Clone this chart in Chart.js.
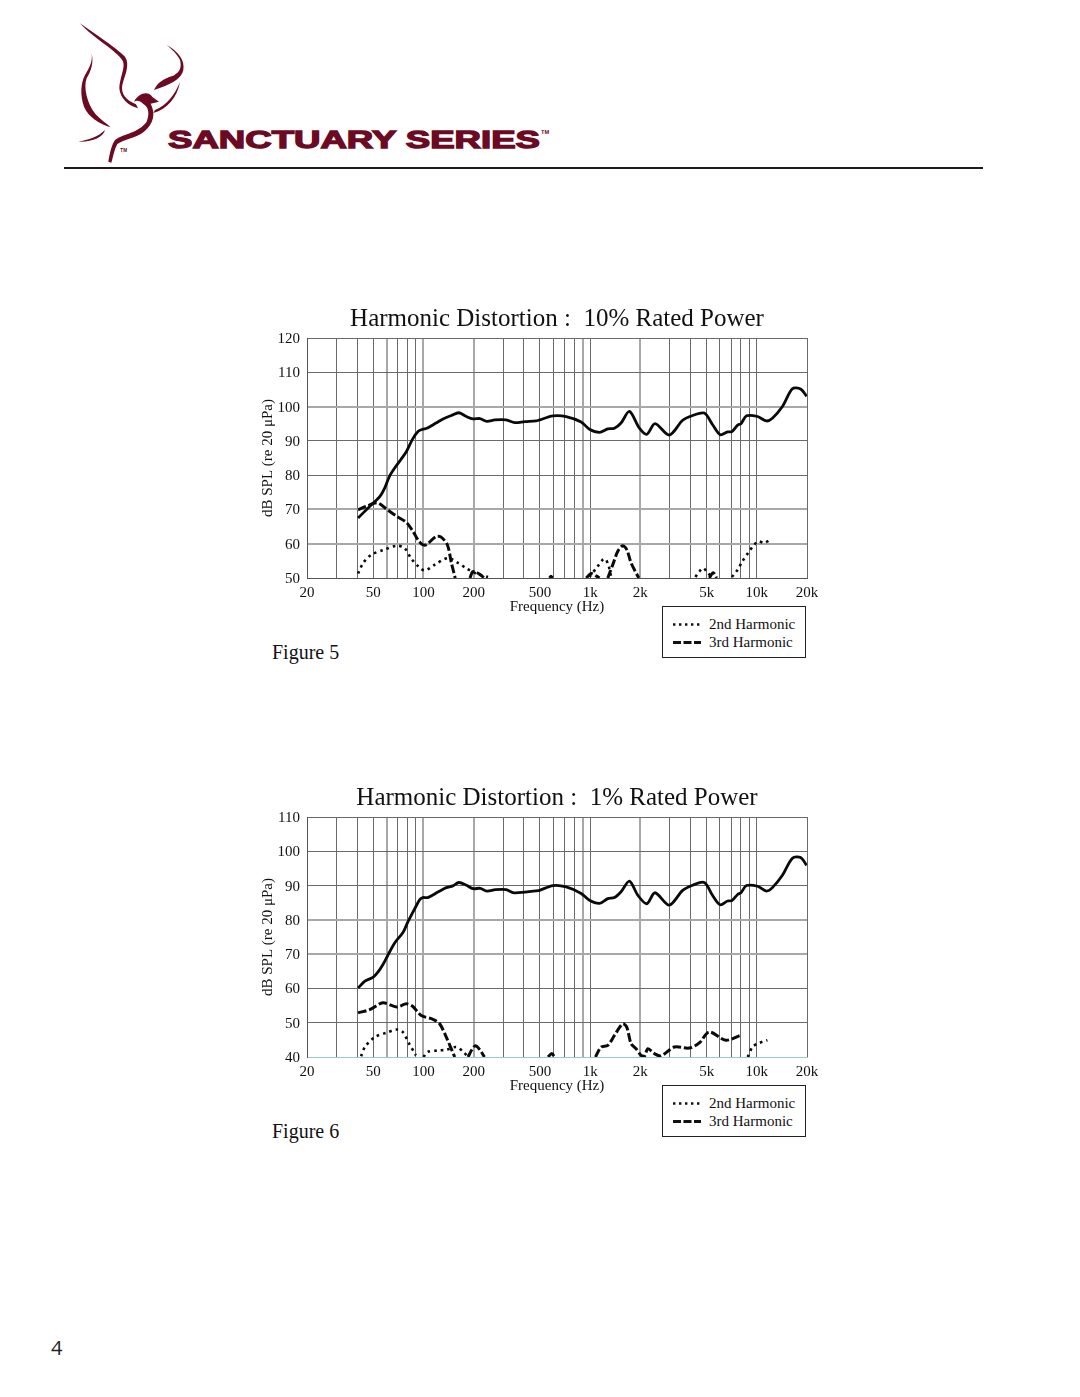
<!DOCTYPE html>
<html lang="en">
<head>
    <meta charset="UTF-8">
    <title>Harmonic Distortion</title>
    <script src="https://cdn.jsdelivr.net/npm/chart.js"></script>
    <style>
        html, body { margin: 0; padding: 0; background: #fff; }
        body { position: relative; width: 1080px; height: 1397px; overflow: hidden; font-family: "Liberation Serif", serif; color: #111; }
        canvas { position: absolute; left: 250px; }
        #chart5 { top: 300px; }
        #chart6 { top: 779px; }
        .rule { position: absolute; left: 64px; top: 167px; width: 919px; height: 2px; background: #1a1a1a; }
        .logo { position: absolute; left: 60px; top: 10px; }
        .figure { position: absolute; left: 272px; font-size: 20px; line-height: 24px; }
        .pagenum { position: absolute; left: 51px; top: 1336px; font-family: "Open Sans", sans-serif; font-size: 20px; line-height: 24px; color: #222; }
        .legend { position: absolute; left: 662px; width: 142px; height: 50px; border: 1.5px solid #222; background: #fff; font-size: 15px; }
        .legend svg { position: absolute; left: 10px; top: 0; }
        .legend span { position: absolute; left: 46px; line-height: 17px; white-space: nowrap; }
    </style>
</head>
<body>
    <svg class="logo" width="500" height="170" viewBox="0 0 1500 510">
        <g fill="#6b0a22">
            <path d="M60,40 C110,75 170,115 195,140 C212,165 192,200 187,225 C182,250 197,270 228,283 L234,295 C205,287 180,265 178,235 C178,205 198,170 188,152 C170,122 100,85 60,40Z"/>
            <path d="M95,130 C102,160 92,185 80,205 C70,230 80,280 107,313 C120,328 140,340 152,352 C120,342 85,322 72,290 C60,255 62,220 75,195 C90,170 98,155 95,130Z"/>
            <path d="M55,395 C85,390 115,380 135,360 C130,382 95,397 55,395Z"/>
            <path d="M320,105 C355,125 375,150 370,180 C365,207 330,225 282,240 C290,220 310,205 340,197 C362,185 365,170 360,150 C350,130 335,118 320,105Z"/>
            <path d="M360,215 C352,262 322,297 280,309 L285,300 C320,285 345,255 360,215Z"/>
            <path d="M222,275 C235,250 265,240 278,262 L297,275 L272,281 C287,310 282,340 252,365 C227,385 192,387 172,402 C162,420 160,440 154,458 L145,455 C150,425 155,405 165,390 C190,370 235,370 260,335 C270,310 265,290 250,282 C240,272 230,270 222,275Z"/>
            <text x="324" y="414" font-family="Liberation Sans" font-weight="700" font-size="74" stroke="#6b0a22" stroke-width="4" textLength="1116" lengthAdjust="spacingAndGlyphs">SANCTUARY SERIES</text>
            <text x="1443" y="372" font-family="Liberation Sans" font-size="17" font-weight="700">TM</text>
            <text x="181" y="426" font-family="Liberation Sans" font-size="14" font-weight="700">TM</text>
        </g>
    </svg>
    <div class="rule"></div>

    <canvas id="chart5" width="614" height="324"></canvas>
    <div class="legend" style="top:606px">
        <svg width="32" height="51"><line x1="0" y1="17.5" x2="28" y2="17.5" stroke="#111" stroke-width="2.4" stroke-dasharray="2.4 3.6"/><line x1="0" y1="35.5" x2="28" y2="35.5" stroke="#111" stroke-width="2.8" stroke-dasharray="8 2.5"/></svg>
        <span style="top:9px">2nd Harmonic</span><span style="top:27px">3rd Harmonic</span>
    </div>
    <div class="figure" style="top:640px">Figure 5</div>

    <canvas id="chart6" width="614" height="324"></canvas>
    <div class="legend" style="top:1085px">
        <svg width="32" height="51"><line x1="0" y1="17.5" x2="28" y2="17.5" stroke="#111" stroke-width="2.4" stroke-dasharray="2.4 3.6"/><line x1="0" y1="35.5" x2="28" y2="35.5" stroke="#111" stroke-width="2.8" stroke-dasharray="8 2.5"/></svg>
        <span style="top:9px">2nd Harmonic</span><span style="top:27px">3rd Harmonic</span>
    </div>
    <div class="figure" style="top:1119px">Figure 6</div>

    <div class="pagenum">4</div>

<script>
// axis
const gridFreqs = [20,30,40,50,60,70,80,90,100,200,300,400,500,600,700,800,900,1000,2000,3000,4000,5000,6000,7000,8000,9000,10000,20000];
const tickFreqs = [20,50,100,200,500,1000,2000,5000,10000,20000];
const tickLabels = ['20','50','100','200','500','1k','2k','5k','10k','20k'];
const softFreqs = [60,100,200,900,2000]; // these print lighter in the scan

// Figure 5 - 10% rated power
const mainFreq5 = [40.5,45.4,50,54.8,58.5,62.4,67,73,79,86,93,99,105,119,131,147,163,181,198,218,240,268,313,353,406,473,497,598,718,883,990,1138,1276,1399,1532,1720,1975,2185,2450,2985,3590,4120,4840,5430,6030,6670,7090,7670,8030,8670,10100,11430,12400,14240,16350,18300,19900];
const mainDb5 = [67.5,69.9,71.9,73.8,76.2,79.6,82,84.5,86.9,90.5,92.8,93.4,93.7,95.2,96.4,97.4,98.2,97.1,96.4,96.5,95.7,96.1,96.1,95.3,95.6,95.8,96.1,97.3,97.1,95.5,93.4,92.5,93.5,93.7,95.2,98.6,93.7,91.9,95,91.7,96,97.4,98.1,94.7,91.8,92.6,92.7,94.6,95,97.3,97.1,95.8,96.6,100,105.2,105.1,103];
const thirdFreq5 = [40.5,45.4,53,60,69,79,86.5,93,99,104,119,127,139,147,155,175,190,197,205,218,232,300,570,582,595,800,946,1014,1086,1138,1200,1276,1367,1465,1569,1658,1760,1957,3000,5182,5470,5740];
const thirdDb5 = [69.9,70.9,71.9,70.1,68,66.2,63.6,61,59.7,59.7,62.1,62,59.7,54.4,50,null,50,51.8,51.8,51,50,null,50,50.5,50,null,50,51.3,50.6,50,null,50,53.9,57.8,59.4,58.3,54.4,50,null,50,51.5,50];
const secondFreq5 = [40.5,43.5,48.7,57,69,77,84,93,102,117,140,161,180,207,244,600,990,1110,1190,1236,1293,1336,3000,4280,4520,4770,5070,5430,6500,7090,7670,8200,8920,9650,10240,11060,11870];
const secondDb5 = [51.3,54.4,56.8,58.1,59.4,58.7,55.8,53.4,52.2,53.9,55.8,54.4,52.9,51.3,50.3,null,50.3,53.4,55.3,55.5,53.4,50.4,null,50.3,51.9,52.9,51.5,50,null,50.3,52.4,54.9,57.5,59.7,60.7,60.2,61];

// Figure 6 - 1% rated power
const mainFreq6 = [40.5,44.5,50,53.4,57,61,67,75.5,80.6,88.5,95,99,106,122,137,150,163,181,198,219,240,270,313,348,406,488,497,598,718,883,990,1138,1276,1399,1532,1720,1930,2185,2450,2985,3590,4120,4840,5430,6030,6670,7090,7670,8030,8670,10100,11430,12400,14240,16350,18300,19900];
const mainDb6 = [60.1,62.1,63.3,64.8,66.9,69.6,73.2,76.4,79.4,83.2,85.9,86.5,86.5,88.1,89.4,89.9,90.9,90.1,89.1,89.2,88.4,88.8,88.8,87.9,88.1,88.5,88.6,90,89.6,87.7,85.7,84.8,86.2,86.5,88.2,91.3,87.2,84.7,87.9,84.3,88.6,90.1,90.9,87.1,84.4,85.5,85.6,87.4,87.9,90,89.8,88.4,89.4,93,98,98.2,95.9];
const thirdFreq6 = [40.5,47.5,57,69,79,86,97,114,125,137,154,170,185,195,205,218,232,400,558,589,612,800,1076,1164,1276,1399,1569,1658,1760,1886,2020,2115,2220,2430,2660,3200,3930,4520,5180,6510,7950];
const thirdDb6 = [52.9,53.8,55.8,54.6,55.5,54.8,52.1,51,49.7,45.8,40,null,40,42.1,43.3,42.1,40,null,40,41,40,null,40,42.9,43.4,46.3,49.7,48.7,43.9,42.4,40.5,40.2,42.4,41,40.3,42.9,42.6,44.1,47.3,44.9,46.3];
const secondFreq6 = [42.2,44.5,51,60,69,75,82,90,95,100,106,122,137,157,172,185,1000,8820,9410,10100,11570];
const secondDb6 = [40.2,42.9,45.8,47.1,48,47.3,43.9,40.5,null,40,41.5,41.9,42.1,42.9,41.7,40,null,40,42.9,43.9,44.9];

function toPoints(xs, ys) {
    const points = [];
    for (let i = 0; i < xs.length; ++i) {
        points.push({ x: xs[i], y: ys[i] });
    }
    return points;
}

const serif = 'Liberation Serif';

function drawHarmonicChart(id, titleText, yMin, yMax, softDb, series) {
    const config = {
        type: 'line',
        data: {
            datasets: [{
                label: 'Fundamental',
                data: toPoints(series.mainFreq, series.mainDb),
                borderColor: '#0a0a0a',
                borderWidth: 2.8
            }, {
                label: '2nd Harmonic',
                data: toPoints(series.secondFreq, series.secondDb),
                borderColor: '#0a0a0a',
                borderWidth: 2.6,
                borderDash: [2.6, 4]
            }, {
                label: '3rd Harmonic',
                data: toPoints(series.thirdFreq, series.thirdDb),
                borderColor: '#0a0a0a',
                borderWidth: 3,
                borderDash: [8.5, 2.8]
            }]
        },
        options: {
            responsive: false,
            animation: false,
            elements: {
                point: { radius: 0 },
                line: { tension: 0.3 }
            },
            plugins: {
                legend: { display: false },
                tooltip: { enabled: false },
                title: {
                    display: true,
                    text: titleText,
                    color: '#111',
                    font: { family: serif, size: 25, weight: 'normal' },
                    padding: { top: 4.5, bottom: 3.5 }
                }
            },
            scales: {
                x: {
                    type: 'logarithmic',
                    min: 20,
                    max: 20000,
                    afterBuildTicks: (scale) => { scale.ticks = gridFreqs.map((v) => ({ value: v })); },
                    afterFit: (scale) => { scale.height = 46; },
                    grid: {
                        color: (ctx) => (softFreqs.includes(ctx.tick.value) ? '#a8a8a8' : '#6a6a6a'),
                        lineWidth: (ctx) => (softFreqs.includes(ctx.tick.value) ? 2 : 1),
                        drawTicks: false
                    },
                    border: { color: series.baseColor || '#555' },
                    ticks: {
                        autoSkip: false,
                        maxRotation: 0,
                        padding: 6,
                        color: '#111',
                        font: { family: serif, size: 15 },
                        callback: (value) => {
                            const i = tickFreqs.indexOf(value);
                            return i >= 0 ? tickLabels[i] : '';
                        }
                    },
                    title: {
                        display: true,
                        text: 'Frequency (Hz)',
                        color: '#111',
                        font: { family: serif, size: 15 },
                        padding: { top: 0, bottom: 8 }
                    }
                },
                y: {
                    min: yMin,
                    max: yMax,
                    afterFit: (scale) => { scale.width = 57; },
                    grid: {
                        color: (ctx) => {
                            if (series.baseColor && ctx.tick.value === yMin) return series.baseColor;
                            return softDb.includes(ctx.tick.value) ? '#a8a8a8' : '#6a6a6a';
                        },
                        lineWidth: (ctx) => (softDb.includes(ctx.tick.value) ? 2 : 1),
                        drawTicks: false
                    },
                    border: { color: '#555' },
                    ticks: {
                        stepSize: 10,
                        padding: 7,
                        labelOffset: 1,
                        color: '#111',
                        font: { family: serif, size: 15 }
                    },
                    title: {
                        display: true,
                        text: 'dB SPL (re 20 μPa)',
                        color: '#111',
                        font: { family: serif, size: 15 },
                        padding: { top: 9, bottom: 0 }
                    }
                },
                // empty axis on the right so the title centres over the plot
                yRight: {
                    position: 'right',
                    min: yMin,
                    max: yMax,
                    afterFit: (scale) => { scale.width = 57; },
                    grid: { display: false },
                    border: { display: false },
                    ticks: { display: false }
                }
            }
        }
    };
    return new Chart(document.querySelector(id), config);
}

drawHarmonicChart('#chart5', 'Harmonic Distortion :  10% Rated Power', 50, 120, [100, 70, 60], {
    mainFreq: mainFreq5, mainDb: mainDb5,
    secondFreq: secondFreq5, secondDb: secondDb5,
    thirdFreq: thirdFreq5, thirdDb: thirdDb5
});
drawHarmonicChart('#chart6', 'Harmonic Distortion :  1% Rated Power', 40, 110, [80, 70], {
    mainFreq: mainFreq6, mainDb: mainDb6,
    secondFreq: secondFreq6, secondDb: secondDb6,
    thirdFreq: thirdFreq6, thirdDb: thirdDb6,
    baseColor: '#9cc8c8'
});
</script>
</body>
</html>
